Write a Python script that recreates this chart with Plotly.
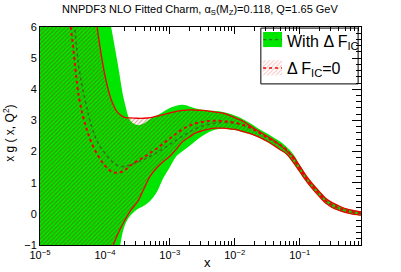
import plotly.graph_objects as go

# x values (log-spaced sampling points)
x_vals = [1.0e-5, 1.58e-5, 2.51e-5, 3.16e-5, 3.98e-5, 5.01e-5, 6.31e-5, 7.94e-5,
          1.0e-4, 1.26e-4, 1.58e-4, 2.0e-4, 2.51e-4, 3.16e-4, 3.98e-4, 5.01e-4, 6.31e-4, 7.94e-4,
          1.0e-3, 1.26e-3, 1.58e-3, 2.0e-3, 2.51e-3, 3.16e-3, 3.98e-3, 5.01e-3, 6.31e-3, 7.94e-3,
          1.0e-2, 1.26e-2, 1.58e-2, 2.0e-2, 2.51e-2, 3.16e-2, 3.98e-2, 5.01e-2, 6.31e-2, 7.94e-2,
          0.10, 0.126, 0.158, 0.200, 0.251, 0.316, 0.398, 0.501, 0.631, 0.794, 0.881]

# With Delta F_IC (green band)
green_upper = [17, 15, 13, 12, 11, 10, 9.0, 8.0,
               7.0, 5.95, 4.8, 3.6, 2.97, 2.85, 2.90, 3.05, 3.16, 3.28,
               3.40, 3.47, 3.50, 3.45, 3.38, 3.34, 3.32, 3.30, 3.28, 3.23,
               3.16, 3.07, 2.96, 2.83, 2.69, 2.58, 2.45, 2.32, 2.15, 1.92,
               1.58, 1.25, 0.98, 0.74, 0.52, 0.37, 0.27, 0.18, 0.13, 0.09, 0.08]
green_lower = [-18, -16, -14, -13, -12, -10.5, -8.5, -6.5,
               -4.5, -2.9, -1.5, -0.4, -0.04, 0.15, 0.26, 0.42, 0.70, 1.15,
               1.50, 1.85, 2.02, 2.18, 2.35, 2.50, 2.62, 2.70, 2.73, 2.72,
               2.69, 2.64, 2.58, 2.51, 2.42, 2.31, 2.18, 2.04, 1.90, 1.63,
               1.34, 1.04, 0.79, 0.55, 0.34, 0.20, 0.11, 0.04, -0.01, -0.04, -0.05]
green_central = [18, 13, 8.3, 6.7, 4.7, 3.6, 2.78, 2.25,
                 1.95, 1.70, 1.55, 1.52, 1.58, 1.66, 1.75, 1.85, 1.97, 2.10,
                 2.23, 2.37, 2.50, 2.63, 2.74, 2.82, 2.88, 2.91, 2.93, 2.93,
                 2.91, 2.87, 2.80, 2.70, 2.58, 2.45, 2.34, 2.22, 2.05, 1.78,
                 1.45, 1.15, 0.89, 0.65, 0.43, 0.29, 0.19, 0.11, 0.06, 0.03, 0.02]

# Delta F_IC = 0 (red hatched band)
red_upper = [15, 13, 11, 10, 9.2, 8.3, 7.3, 5.7,
             4.45, 3.65, 3.25, 3.10, 3.08, 3.07, 3.07, 3.09, 3.14, 3.19,
             3.24, 3.29, 3.32, 3.34, 3.33, 3.32, 3.30, 3.27, 3.24, 3.18,
             3.09, 3.00, 2.88, 2.74, 2.62, 2.49, 2.36, 2.20, 2.03, 1.85,
             1.54, 1.22, 0.96, 0.72, 0.50, 0.36, 0.26, 0.17, 0.12, 0.08, 0.07]
red_lower = [-16, -14, -12, -11, -9.5, -8, -6.3, -4.5,
             -2.8, -1.2, -0.65, -0.22, 0.12, 0.38, 0.80, 1.22, 1.48, 1.68,
             1.85, 2.08, 2.32, 2.47, 2.60, 2.67, 2.72, 2.75, 2.75, 2.74,
             2.71, 2.66, 2.60, 2.53, 2.44, 2.33, 2.20, 2.06, 1.92, 1.66,
             1.36, 1.06, 0.80, 0.56, 0.35, 0.21, 0.12, 0.05, 0.00, -0.03, -0.04]
red_central = [15, 11, 7.2, 5.55, 3.75, 2.85, 2.25, 1.85,
               1.55, 1.36, 1.32, 1.40, 1.56, 1.70, 1.82, 1.96, 2.10, 2.26,
               2.42, 2.58, 2.72, 2.83, 2.91, 2.95, 2.98, 2.99, 2.98, 2.96,
               2.93, 2.87, 2.80, 2.70, 2.57, 2.45, 2.34, 2.22, 2.05, 1.79,
               1.46, 1.15, 0.89, 0.65, 0.43, 0.29, 0.19, 0.11, 0.06, 0.03, 0.02]

x_tick_vals = [1e-5, 1e-4, 1e-3, 1e-2, 1e-1]
x_tick_text = ['10<sup>−5</sup>', '10<sup>−4</sup>', '10<sup>−3</sup>', '10<sup>−2</sup>', '10<sup>−1</sup>']
y_tick_vals = [-1, 0, 1, 2, 3, 4, 5, 6]

GREEN = '#00e600'
RED = '#ee0000'
FONT = 'Liberation Sans, Arial, sans-serif'

minor_x = [m * t for t in x_tick_vals for m in range(2, 10) if m * t < 0.88]

fig = go.Figure()

# green band
fig.add_trace(go.Scatter(x=x_vals, y=green_lower, mode='lines', line=dict(width=0, shape='spline'),
                         showlegend=False, hoverinfo='skip'))
fig.add_trace(go.Scatter(x=x_vals, y=green_upper, mode='lines', line=dict(width=0, shape='spline'),
                         fill='tonexty', fillcolor=GREEN, showlegend=False, hoverinfo='skip'))
fig.add_trace(go.Scatter(x=x_vals, y=green_central, mode='lines',
                         line=dict(color='#2a7a2a', width=1.5, dash='dot', shape='spline'),
                         showlegend=False))

# red hatched band
fig.add_trace(go.Scatter(x=x_vals, y=red_lower, mode='lines',
                         line=dict(color=RED, width=1.3, shape='spline'), showlegend=False))
fig.add_trace(go.Scatter(x=x_vals, y=red_upper, mode='lines',
                         line=dict(color=RED, width=1.3, shape='spline'),
                         fill='tonexty', fillcolor='rgba(0,0,0,0)',
                         fillpattern=dict(shape='/', fgcolor='rgba(160,20,0,0.85)', bgcolor='rgba(0,0,0,0)',
                                          size=3, solidity=0.35),
                         showlegend=False))
fig.add_trace(go.Scatter(x=x_vals, y=red_central, mode='lines',
                         line=dict(color=RED, width=2, dash='dot', shape='spline'),
                         showlegend=False))

# legend sample (hatched) on overlay axes in plot-fraction coordinates
lx0, lx1 = 0.695, 0.754
fig.add_trace(go.Scatter(x=[lx0, lx1, lx1, lx0, lx0], y=[0.778, 0.778, 0.847, 0.847, 0.778],
                         mode='lines', line=dict(width=0), fill='toself', fillcolor='rgba(0,0,0,0)',
                         fillpattern=dict(shape='/', fgcolor='rgba(240,60,60,0.7)', bgcolor='rgba(0,0,0,0)',
                                          size=3, solidity=0.3),
                         xaxis='x2', yaxis='y2', showlegend=False, hoverinfo='skip'))

shapes = [
    dict(type='rect', xref='paper', yref='paper', x0=0.688, x1=0.991, y0=0.739, y1=0.995,
         line=dict(color='black', width=1), fillcolor='white', layer='below'),
    dict(type='rect', xref='paper', yref='paper', x0=lx0, x1=lx1, y0=0.908, y1=0.977,
         line=dict(width=0), fillcolor=GREEN, layer='below'),
    dict(type='line', xref='paper', yref='paper', x0=lx0, x1=lx1, y0=0.942, y1=0.942,
         line=dict(color='#2a7a2a', width=1.2, dash='dot'), layer='above'),
    dict(type='line', xref='paper', yref='paper', x0=lx0, x1=lx1, y0=0.812, y1=0.812,
         line=dict(color=RED, width=1.5, dash='dot'), layer='above'),
]

annotations = [
    dict(text='NNPDF3 NLO Fitted Charm, α<sub>S</sub>(M<sub>Z</sub>)=0.118, Q=1.65 GeV',
         xref='paper', yref='paper', x=0.498, y=1.078, showarrow=False,
         font=dict(family=FONT, size=11, color='black'), xanchor='center', yanchor='middle'),
    dict(text='x', xref='paper', yref='paper', x=0.523, y=-0.078, showarrow=False,
         font=dict(family=FONT, size=13, color='black'), xanchor='center', yanchor='middle'),
    dict(text='x g ( x, Q<sup>2</sup>)', xref='paper', yref='paper', x=-0.097, y=0.514,
         showarrow=False, textangle=-90,
         font=dict(family=FONT, size=12, color='black'), xanchor='center', yanchor='middle'),
    dict(text='With Δ F<sub>IC</sub>', xref='paper', yref='paper', x=0.763, y=0.931,
         showarrow=False, font=dict(family=FONT, size=16, color='black'),
         xanchor='left', yanchor='middle'),
    dict(text='Δ F<sub>IC</sub>=0', xref='paper', yref='paper', x=0.763, y=0.803,
         showarrow=False, font=dict(family=FONT, size=16, color='black'),
         xanchor='left', yanchor='middle'),
]

fig.update_layout(
    width=401, height=272,
    margin=dict(l=40, r=40, t=27, b=27),
    paper_bgcolor='white', plot_bgcolor='white',
    showlegend=False,
    font=dict(family=FONT, size=11, color='black'),
    shapes=shapes, annotations=annotations,
    xaxis=dict(type='log', range=[-5, -0.055], showgrid=False, zeroline=False,
               showline=True, linecolor='black', linewidth=1, mirror='allticks',
               ticks='inside', ticklen=7, tickcolor='black', tickwidth=1,
               tickmode='array', tickvals=x_tick_vals, ticktext=x_tick_text,
               tickfont=dict(family=FONT, size=11, color='black'),
               minor=dict(ticks='inside', ticklen=4, tickcolor='black', tickmode='array', tickvals=minor_x),
               layer='below traces'),
    yaxis=dict(range=[-1, 6], showgrid=False, zeroline=False,
               showline=True, linecolor='black', linewidth=1, mirror='allticks',
               ticks='inside', ticklen=9, tickcolor='black', tickwidth=1,
               tickmode='array', tickvals=y_tick_vals,
               tickfont=dict(family=FONT, size=11, color='black'),
               minor=dict(ticks='inside', ticklen=5, tickcolor='black', dtick=0.2),
               layer='below traces'),
    xaxis2=dict(overlaying='x', range=[0, 1], visible=False, anchor='y2'),
    yaxis2=dict(overlaying='y', range=[0, 1], visible=False, anchor='x2'),
)

fig.write_html('out.html', config={'displayModeBar': False},
               post_script="document.body.style.margin='0';")
